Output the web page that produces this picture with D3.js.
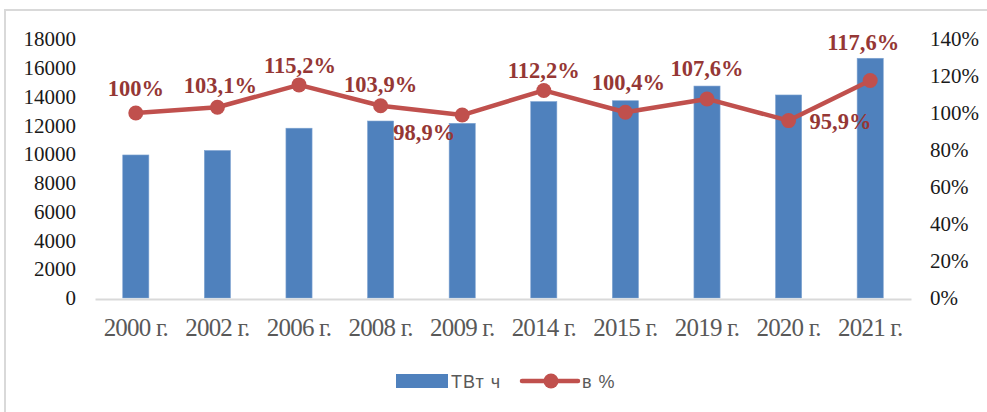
<!DOCTYPE html>
<html>
<head>
<meta charset="utf-8">
<script src="https://cdn.jsdelivr.net/npm/d3@7"></script>
<style>
  body { margin: 0; background: #fff; }
  svg { display: block; }
</style>
</head>
<body>
<script>
"use strict";
// data
var years = ["2000 г.", "2002 г.", "2006 г.", "2008 г.", "2009 г.", "2014 г.", "2015 г.", "2019 г.", "2020 г.", "2021 г."];
var twh = [9940, 10250, 11800, 12300, 12140, 13650, 13710, 14730, 14110, 16660];
var pct = [1.00, 1.031, 1.152, 1.039, 0.989, 1.122, 1.004, 1.076, 0.959, 1.176];
var pctLabels = ["100%", "103,1%", "115,2%", "103,9%", "98,9%", "112,2%", "100,4%", "107,6%", "95,9%", "117,6%"];
var leftTicks = [0, 2000, 4000, 6000, 8000, 10000, 12000, 14000, 16000, 18000];
var rightTicks = [0, 0.2, 0.4, 0.6, 0.8, 1.0, 1.2, 1.4];

var width = 987, height = 412;
var svg = d3.select("body").append("svg").attr("width", width).attr("height", height);

// chart frame
svg.append("path").attr("d", "M5,412V10H987").attr("fill", "none")
  .attr("stroke", "#d9d9d9").attr("stroke-width", 2);

var x = d3.scaleBand().domain(years).range([95, 911]).paddingInner(0.68).paddingOuter(0.34);
var y = d3.scaleLinear().domain([0, 18000]).range([298, 39]);
var y2 = d3.scaleLinear().domain([0, 1.4]).range([298, 39]);

var serif = "'Liberation Serif', 'Times New Roman', serif";

// left axis
var leftAxis = svg.append("g").attr("transform", "translate(80,0)")
  .call(d3.axisLeft(y).tickValues(leftTicks).tickSize(0).tickPadding(4).tickFormat(d3.format("d")));
leftAxis.select(".domain").remove();
leftAxis.selectAll("text").attr("font-family", serif).attr("font-size", 21).attr("fill", "#1a1a1a");

// right axis
var rightAxis = svg.append("g").attr("transform", "translate(926,0)")
  .call(d3.axisRight(y2).tickValues(rightTicks).tickSize(0).tickPadding(4).tickFormat(d3.format(".0%")));
rightAxis.select(".domain").remove();
rightAxis.selectAll("text").attr("font-family", serif).attr("font-size", 21).attr("fill", "#1a1a1a");

// bars
svg.append("g").selectAll("rect").data(twh).join("rect")
  .attr("x", function(d, i) { return x(years[i]); })
  .attr("y", function(d) { return y(d); })
  .attr("width", x.bandwidth())
  .attr("height", function(d) { return y(0) - y(d); })
  .attr("fill", "#4f81bd")
  .attr("stroke", "#7fa3d1").attr("stroke-width", 0.6);

// bottom axis
var bottomAxis = svg.append("g").attr("transform", "translate(0,299)")
  .call(d3.axisBottom(x).tickSize(0).tickPadding(19));
bottomAxis.select(".domain").attr("stroke", "#d9d9d9").attr("stroke-width", 2);
bottomAxis.selectAll("text").attr("font-family", serif).attr("font-size", 25).attr("fill", "#595959")
  .attr("letter-spacing", -0.8);

// line with markers
var cx = function(i) { return x(years[i]) + x.bandwidth() / 2; };
var line = d3.line().x(function(d, i) { return cx(i); }).y(function(d) { return y2(d); });
svg.append("path").datum(pct).attr("d", line).attr("fill", "none")
  .attr("stroke", "#c0504d").attr("stroke-width", 4.5).attr("stroke-linejoin", "round");
svg.append("g").selectAll("circle").data(pct).join("circle")
  .attr("cx", function(d, i) { return cx(i); })
  .attr("cy", function(d) { return y2(d); })
  .attr("r", 7.5).attr("fill", "#c0504d");

// data labels: [dx, dy, anchor] relative to the marker
var labelOffsets = [
  [0, -17, "middle"], [3, -14, "middle"], [1, -12, "middle"], [0, -14, "middle"],
  [-7, 25, "end"], [0, -12, "middle"], [3, -22, "middle"], [0, -23, "middle"],
  [21, 8, "start"], [-7, -30, "middle"]
];
svg.append("g").selectAll("text").data(pctLabels).join("text")
  .attr("x", function(d, i) { return cx(i) + labelOffsets[i][0]; })
  .attr("y", function(d, i) { return y2(pct[i]) + labelOffsets[i][1]; })
  .attr("text-anchor", function(d, i) { return labelOffsets[i][2]; })
  .attr("font-family", serif).attr("font-weight", "bold").attr("font-size", 22.5)
  .attr("fill", "#953735")
  .text(function(d) { return d; });

// legend
var legend = svg.append("g").attr("font-family", "'Liberation Sans Narrow', 'Liberation Sans', sans-serif")
  .attr("font-size", 18).attr("fill", "#595959");
legend.append("rect").attr("x", 396).attr("y", 374).attr("width", 52).attr("height", 14).attr("fill", "#4f81bd");
legend.append("text").attr("x", 451).attr("y", 388).attr("letter-spacing", 1).text("ТВт ч");
legend.append("line").attr("x1", 522).attr("x2", 578).attr("y1", 381).attr("y2", 381)
  .attr("stroke", "#c0504d").attr("stroke-width", 4.5).attr("stroke-linecap", "round");
legend.append("circle").attr("cx", 551).attr("cy", 381).attr("r", 7.5).attr("fill", "#c0504d");
legend.append("text").attr("x", 582).attr("y", 388).attr("letter-spacing", 1).text("в %");
</script>
</body>
</html>
